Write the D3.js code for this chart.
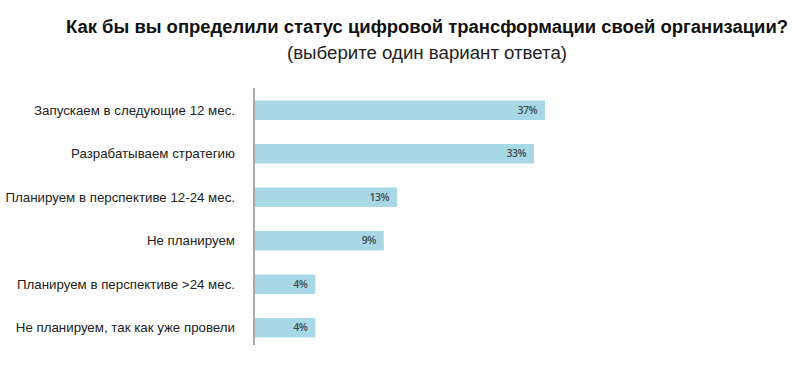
<!DOCTYPE html>
<html><head><meta charset="utf-8">
<script src="https://cdn.jsdelivr.net/npm/d3@7"></script>
<style>
html,body{margin:0;padding:0;background:#fff;}
</style>
</head><body>
<svg id="chart" width="800" height="370"></svg>
<script>
const titleText = "Как бы вы определили статус цифровой трансформации своей организации?";
const subtitleText = "(выберите один вариант ответа)";
const categories = [
  "Запускаем в следующие 12 мес.",
  "Разрабатываем стратегию",
  "Планируем в перспективе 12-24 мес.",
  "Не планируем",
  "Планируем в перспективе >24 мес.",
  "Не планируем, так как уже провели"
];
// Percentages printed on the bars
const values = [37, 33, 13, 9, 4, 4];
// Bar lengths as drawn in the source (same % units; the source's bars are not proportional to their labels)
const barLengths = [37, 35.6, 18.2, 16.5, 7.8, 7.8];

const svg = d3.select("#chart");
const x = d3.scaleLinear().domain([0, 40]).range([254, 254 + 314.6]);
const y = d3.scaleBand().domain(categories).range([88.5, 349.5])
  .paddingInner(0.552).paddingOuter(0.276);

svg.append("text").attr("x", 66).attr("y", 33)
  .attr("font-family", "'Liberation Sans',Arial,sans-serif")
  .attr("font-weight", "bold").attr("font-size", 18).attr("fill", "#111")
  .attr("textLength", 722).attr("lengthAdjust", "spacingAndGlyphs")
  .text(titleText);
svg.append("text").attr("x", 287).attr("y", 59)
  .attr("font-family", "'Liberation Sans',Arial,sans-serif")
  .attr("font-size", 17.5).attr("fill", "#222")
  .attr("textLength", 280).attr("lengthAdjust", "spacingAndGlyphs")
  .text(subtitleText);

svg.selectAll("rect.bar").data(categories).enter().append("rect")
  .attr("class", "bar")
  .attr("x", x(0))
  .attr("y", d => y(d))
  .attr("width", (d, i) => x(barLengths[i]) - x(0))
  .attr("height", y.bandwidth())
  .attr("fill", "#a8d8e6");

svg.selectAll("text.val").data(categories).enter().append("text")
  .attr("class", "val")
  .attr("x", (d, i) => x(barLengths[i]) - 8)
  .attr("y", d => y(d) + y.bandwidth() / 2)
  .attr("dy", "0.35em")
  .attr("text-anchor", "end")
  .attr("font-family", "'Open Sans',sans-serif")
  .attr("font-size", 10.5).attr("font-weight", 600).attr("letter-spacing", -0.5).attr("fill", "#3f4b50")
  .text((d, i) => values[i] + "%");

const yAxis = d3.axisLeft(y).tickSize(0).tickPadding(19);
const g = svg.append("g").attr("transform", `translate(${x(0)},0)`).call(yAxis);
g.select(".domain").attr("stroke", "#aaa").attr("stroke-width", 2)
  .attr("d", `M0,88V345`);
g.selectAll(".tick text")
  .attr("font-family", "'Liberation Sans',Arial,sans-serif")
  .attr("font-size", 13.3).attr("fill", "#222");
</script>
</body></html>
